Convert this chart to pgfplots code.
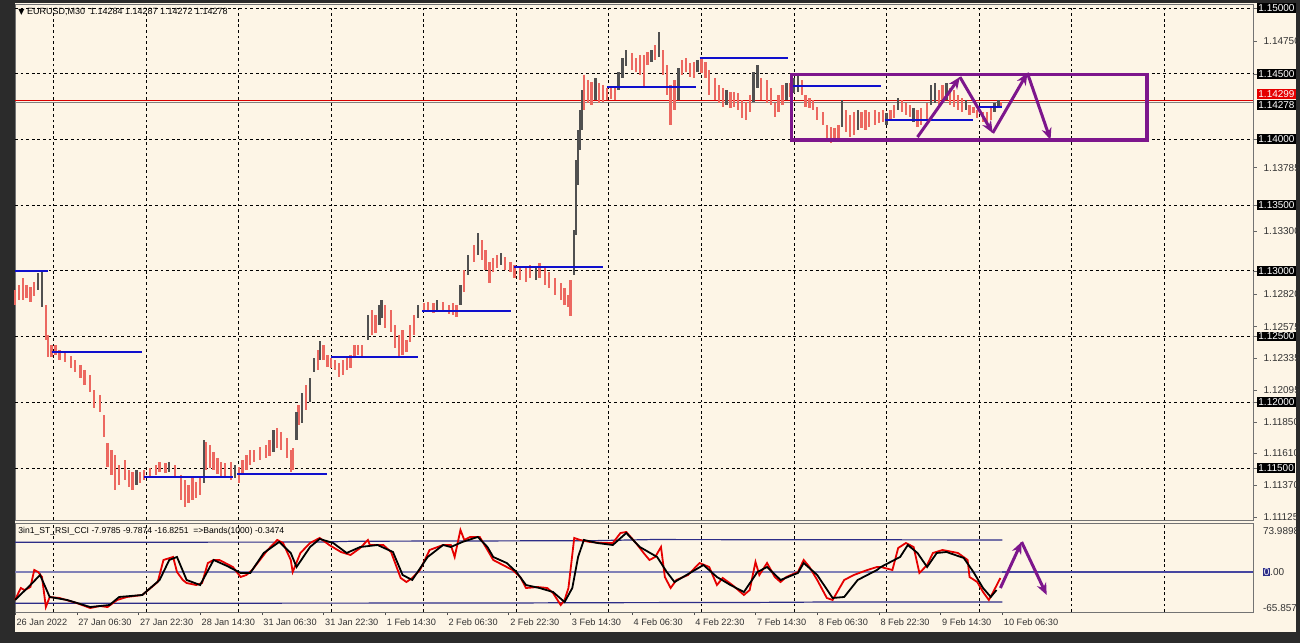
\documentclass[border=0pt]{standalone}
\usepackage{pgfplots}
\pgfplotsset{compat=1.18}
\usepackage{pgfplotstable}
\usetikzlibrary{arrows.meta}
\usepackage{fontspec}
\setmainfont{Liberation Sans}
\newfontfamily\dejavu{DejaVu Sans}

\definecolor{bg}{HTML}{FDF5E6}
\definecolor{frame}{HTML}{2B2B2B}
\definecolor{bardn}{RGB}{236,104,96}
\definecolor{barup}{RGB}{80,80,80}
\definecolor{lvl}{RGB}{15,15,205}
\definecolor{zz}{RGB}{125,22,140}
\definecolor{band}{RGB}{45,45,135}
\definecolor{zero}{RGB}{70,70,160}

% bar index (M30), low, high
\pgfplotstableread{
b lo hi
0 1.12740 1.12854
2 1.12778 1.12892
4 1.12778 1.12945
6 1.12793 1.12892
8 1.12763 1.12877
10 1.12808 1.12915
16 1.12474 1.12740
17 1.12344 1.12512
19 1.12344 1.12436
21 1.12359 1.12436
23 1.12321 1.12398
26 1.12306 1.12382
29 1.12261 1.12352
31 1.12230 1.12321
34 1.12184 1.12283
36 1.12131 1.12245
39 1.12078 1.12207
41 1.11956 1.12093
44 1.11926 1.12055
46 1.11735 1.11903
48 1.11507 1.11690
50 1.11446 1.11637
52 1.11332 1.11598
54 1.11370 1.11522
57 1.11408 1.11560
59 1.11355 1.11484
61 1.11332 1.11469
65 1.11385 1.11469
67 1.11408 1.11484
70 1.11423 1.11500
73 1.11446 1.11522
75 1.11469 1.11545
78 1.11461 1.11538
83 1.11439 1.11522
86 1.11256 1.11446
88 1.11203 1.11408
90 1.11233 1.11370
92 1.11256 1.11423
94 1.11271 1.11393
96 1.11294 1.11423
99 1.11484 1.11697
101 1.11500 1.11675
103 1.11484 1.11621
105 1.11454 1.11576
107 1.11439 1.11545
109 1.11423 1.11538
112 1.11408 1.11545
116 1.11385 1.11507
118 1.11446 1.11560
120 1.11484 1.11598
122 1.11522 1.11637
124 1.11545 1.11637
127 1.11560 1.11659
130 1.11576 1.11675
132 1.11591 1.11713
136 1.11652 1.11804
138 1.11637 1.11774
141 1.11576 1.11728
143 1.11469 1.11637
144 1.11484 1.11652
147 1.11827 1.11979
151 1.11941 1.12131
157 1.12245 1.12398
160 1.12321 1.12436
162 1.12268 1.12359
164 1.12261 1.12337
166 1.12245 1.12321
168 1.12192 1.12299
170 1.12207 1.12321
172 1.12245 1.12337
174 1.12261 1.12359
176 1.12337 1.12436
178 1.12359 1.12436
180 1.12344 1.12436
185 1.12512 1.12702
187 1.12527 1.12664
192 1.12565 1.12740
195 1.12534 1.12702
197 1.12413 1.12588
199 1.12344 1.12512
201 1.12359 1.12550
203 1.12382 1.12474
205 1.12458 1.12588
207 1.12512 1.12664
212 1.12687 1.12755
214 1.12687 1.12763
217 1.12679 1.12755
222 1.12687 1.12763
225 1.12671 1.12740
227 1.12664 1.12755
229 1.12649 1.12740
233 1.12839 1.13006
238 1.13067 1.13197
242 1.13082 1.13235
244 1.13006 1.13159
246 1.12907 1.13067
248 1.12991 1.13098
250 1.13021 1.13120
254 1.13006 1.13105
257 1.12991 1.13067
259 1.12945 1.13044
262 1.12930 1.13021
265 1.12915 1.13021
267 1.12945 1.13044
272 1.12945 1.13060
275 1.12892 1.13021
277 1.12869 1.12991
280 1.12816 1.12945
283 1.12778 1.12907
285 1.12740 1.12869
287 1.12725 1.12816
288 1.12656 1.12930
295 1.14224 1.14490
297 1.14277 1.14452
299 1.14262 1.14437
303 1.14277 1.14429
305 1.14285 1.14414
307 1.14300 1.14391
309 1.14308 1.14407
311 1.14300 1.14391
320 1.14528 1.14658
322 1.14513 1.14620
324 1.14490 1.14642
326 1.14391 1.14642
328 1.14566 1.14665
332 1.14604 1.14719
336 1.14490 1.14681
338 1.14338 1.14566
340 1.14110 1.14414
342 1.14224 1.14452
346 1.14490 1.14604
348 1.14513 1.14620
350 1.14475 1.14582
352 1.14467 1.14589
356 1.14506 1.14620
358 1.14467 1.14589
360 1.14338 1.14528
363 1.14300 1.14467
365 1.14277 1.14414
367 1.14247 1.14391
371 1.14239 1.14361
373 1.14247 1.14361
375 1.14224 1.14353
377 1.14163 1.14300
379 1.14148 1.14285
381 1.14209 1.14338
387 1.14300 1.14467
390 1.14277 1.14452
392 1.14262 1.14391
394 1.14171 1.14277
396 1.14209 1.14338
398 1.14262 1.14414
402 1.14323 1.14429
408 1.14338 1.14452
410 1.14247 1.14338
412 1.14239 1.14315
414 1.14224 1.14300
416 1.14148 1.14247
419 1.14110 1.14209
421 1.13996 1.14110
423 1.13973 1.14095
425 1.13980 1.14087
427 1.13996 1.14110
431 1.14057 1.14224
433 1.14018 1.14186
435 1.14034 1.14209
439 1.14087 1.14209
441 1.14072 1.14224
443 1.14095 1.14209
446 1.14110 1.14224
448 1.14125 1.14209
450 1.14133 1.14224
454 1.14148 1.14224
456 1.14163 1.14262
460 1.14209 1.14300
462 1.14186 1.14277
464 1.14171 1.14262
468 1.14095 1.14224
470 1.14110 1.14239
473 1.14148 1.14277
479 1.14239 1.14376
481 1.14300 1.14414
485 1.14262 1.14391
487 1.14247 1.14376
489 1.14224 1.14338
491 1.14209 1.14315
495 1.14186 1.14262
497 1.14201 1.14247
499 1.14163 1.14224
502 1.14133 1.14209
504 1.14110 1.14209
506 1.14148 1.14239
511 1.14254 1.14285
}\dnbars

\pgfplotstableread{
b lo hi
12 1.12854 1.12983
14 1.12725 1.13006
63 1.11370 1.11484
80 1.11469 1.11545
98 1.11385 1.11713
114 1.11423 1.11522
134 1.11621 1.11789
146 1.11713 1.11926
149 1.11842 1.12070
153 1.12002 1.12184
155 1.12230 1.12337
158 1.12321 1.12466
183 1.12474 1.12664
189 1.12588 1.12740
190 1.12641 1.12778
209 1.12641 1.12740
219 1.12702 1.12778
231 1.12740 1.12892
235 1.12968 1.13120
240 1.13120 1.13288
252 1.13044 1.13136
270 1.12930 1.13037
290 1.12968 1.13311
291 1.13273 1.13843
292 1.13653 1.14072
293 1.13920 1.14224
294 1.14072 1.14376
301 1.14300 1.14467
313 1.14376 1.14513
315 1.14467 1.14620
317 1.14559 1.14681
330 1.14589 1.14681
334 1.14627 1.14818
344 1.14300 1.14544
354 1.14513 1.14604
369 1.14262 1.14376
383 1.14285 1.14513
385 1.14391 1.14566
400 1.14300 1.14429
404 1.14353 1.14467
406 1.14361 1.14483
429 1.14095 1.14300
437 1.14072 1.14224
452 1.14110 1.14201
458 1.14224 1.14315
466 1.14133 1.14239
475 1.14262 1.14414
477 1.14277 1.14429
483 1.14300 1.14429
493 1.14224 1.14300
508 1.14209 1.14277
510 1.14239 1.14300
}\upbars

% 3in1 oscillator: fast (red) and slow (black) lines
\pgfplotstableread{
b v
0 -50.5
3 -28.9
5 -32.5
8 -27.1
10 3.6
12 0
14 -9.0
16 -63.2
18 -45.1
23 -46.9
32 -56.0
39 -65.0
44 -61.4
48 -63.2
53 -50.5
58 -45.1
66 -41.5
74 -18.1
77 21.7
82 27.1
84 0
87 -14.4
89 -19.9
94 -23.5
97 -19.9
100 16.2
103 21.7
106 21.7
113 9.0
117 -9.0
120 -5.4
123 3.6
131 39.7
136 57.8
139 52.3
143 21.7
144 0
148 34.3
153 52.3
158 61.4
163 48.7
169 36.1
174 30.7
179 43.3
183 57.8
184 48.7
191 48.7
195 36.1
200 -10.8
203 -18.1
206 -10.8
210 3.6
215 39.7
222 48.7
226 48.7
228 27.1
231 75.8
233 57.8
236 63.2
241 63.2
245 39.7
248 21.7
253 12.6
258 3.6
262 -9.0
265 -28.9
271 -27.1
276 -28.9
279 -37.9
283 -59.6
285 -50.5
287 -28.9
290 61.4
293 57.8
298 54.2
305 52.3
310 52.3
314 70.4
317 72.2
322 52.3
326 34.3
329 21.7
332 27.1
335 45.1
337 -9.0
340 -28.9
343 -14.4
349 -5.4
355 16.2
360 9.0
364 -23.5
367 -10.8
372 -23.5
378 -41.5
381 -32.5
384 18.1
386 -5.4
390 16.2
394 -9.0
397 -18.1
400 -9.0
406 0
409 21.7
412 9.0
416 -14.4
421 -46.9
424 -50.5
430 -14.4
435 -5.4
442 3.6
447 9.0
449 9.0
455 3.6
458 43.3
462 52.3
466 45.1
469 -1.8
473 12.6
476 34.3
481 39.7
489 34.3
494 21.7
495 -9.0
499 -18.1
502 -36.1
505 -50.5
507 -37.9
511 -10.8
}\fastline

\pgfplotstableread{
b v
0 -50.5
8 -23.5
13 -5.4
18 -45.1
27 -50.5
39 -63.2
49 -59.6
54 -45.1
66 -41.5
75 -14.4
80 21.7
84 27.1
89 -14.4
96 -23.5
103 21.7
110 10.8
117 -1.8
122 -1.8
129 34.3
137 54.2
143 34.3
146 9.0
153 45.1
158 59.6
165 52.3
172 34.3
179 45.1
188 48.7
196 36.1
201 -5.4
206 -14.4
214 27.1
222 48.7
226 45.1
232 54.2
240 63.2
245 45.1
248 27.1
255 16.2
260 0
265 -23.5
272 -28.9
279 -36.1
285 -54.2
289 -28.9
292 27.1
295 57.8
302 52.3
310 48.7
317 70.4
324 45.1
333 27.1
338 0
342 -18.1
350 -1.8
357 12.6
364 -9.0
371 -23.5
378 -36.1
385 0
390 9.0
397 -14.4
406 -1.8
409 16.2
416 -5.4
424 -46.9
430 -45.1
437 -14.4
447 3.6
449 9.0
459 27.1
463 48.7
468 34.3
473 9.0
478 34.3
483 36.1
492 25.3
497 0
502 -28.9
506 -45.1
509 -32.5
}\slowline

\begin{document}
\begin{tikzpicture}
\useasboundingbox (0,0) rectangle (650pt,321.5pt);
\fill[frame] (0,0) rectangle (650pt,321.5pt);
\fill[bg] (7.5pt,5.5pt) rectangle (648pt,320pt);

\pgfplotsset{
  mt/.style={
    scale only axis, anchor=south west, width=619pt,
    xmin=0, xmax=642, clip=false,
    axis line style={black!55, line width=0.5pt},
    grid style={black, dash pattern=on 1.4pt off 1.4pt, line width=0.45pt},
    ytick pos=right, yticklabel pos=right, tick align=outside,
    tick label style={font=\fontsize{5}{6}\selectfont, text=black!80},
  },
  ohlc/.style={draw=none, mark=none, forget plot,
    error bars/.cd, y dir=both, y explicit, error mark=none,
    error bar style={draw=#1, line width=1.15pt}},
}

%------------------------------ price window
\begin{axis}[mt,
  at={(7.5pt,61.5pt)}, height=257.5pt,
  ymin=1.11104, ymax=1.15023,
  xtick={20,68,116,164,212,260,308,356,404,452,500,548,596},
  xticklabels={}, xmajorgrids, xtick style={draw=none},
  ytick={1.11125,1.11370,1.11610,1.11850,1.12095,1.12335,1.12575,1.12820,1.13300,1.13785,1.14750},
  yticklabels={1.11125,1.11370,1.11610,1.11850,1.12095,1.12335,1.12575,1.12820,1.13300,1.13785,1.14750},
  ytick style={black!60}, major tick length=1.8pt,
  extra y ticks={1.115,1.120,1.125,1.130,1.135,1.140,1.145,1.150},
  extra y tick labels={1.11500,1.12000,1.12500,1.13000,1.13500,1.14000,1.14500,1.15000},
  extra y tick style={grid=major, yticklabel style={fill=black, text=white, inner sep=0.7pt}},
]
\addplot[red!85!black, line width=0.4pt] coordinates {(0,1.14300) (642,1.14300)};
\addplot[black!50, line width=0.4pt] coordinates {(0,1.14278) (642,1.14278)};

\addplot[ohlc=bardn]
  table[x=b, y expr=(\thisrow{lo}+\thisrow{hi})/2, y error expr=(\thisrow{hi}-\thisrow{lo})/2] {\dnbars};
\addplot[ohlc=barup]
  table[x=b, y expr=(\thisrow{lo}+\thisrow{hi})/2, y error expr=(\thisrow{hi}-\thisrow{lo})/2] {\upbars};

% daily open levels
\addplot[lvl, line width=1pt] coordinates {(0,1.13000) (17,1.13000)};
\addplot[lvl, line width=1pt] coordinates {(19,1.12382) (66,1.12382)};
\addplot[lvl, line width=1pt] coordinates {(67,1.11431) (113,1.11431)};
\addplot[lvl, line width=1pt] coordinates {(115,1.11454) (162,1.11454)};
\addplot[lvl, line width=1pt] coordinates {(164,1.12344) (209,1.12344)};
\addplot[lvl, line width=1pt] coordinates {(211,1.12694) (257,1.12694)};
\addplot[lvl, line width=1pt] coordinates {(259,1.13029) (305,1.13029)};
\addplot[lvl, line width=1pt] coordinates {(307,1.14399) (353,1.14399)};
\addplot[lvl, line width=1pt] coordinates {(355,1.14620) (401,1.14620)};
\addplot[lvl, line width=1pt] coordinates {(403,1.14407) (449,1.14407)};
\addplot[lvl, line width=1pt] coordinates {(451,1.14148) (497,1.14148)};
\addplot[lvl, line width=1pt] coordinates {(499,1.14247) (512,1.14247)};

% range box and projected swings
\addplot[zz, line width=1.6pt, line join=miter] coordinates {(402.5,1.13996) (587,1.13996) (587,1.14494) (402.5,1.14494) (402.5,1.13996) (587,1.13996)};
\addplot[zz, line width=1.5pt, -{Stealth[length=6pt,width=5pt]}] coordinates {(468,1.14018) (490,1.14475)};
\addplot[zz, line width=1.5pt, -{Stealth[length=6pt,width=5pt]}] coordinates {(490,1.14475) (507,1.14049)};
\addplot[zz, line width=1.5pt, -{Stealth[length=6pt,width=5pt]}] coordinates {(507,1.14049) (525,1.14506)};
\addplot[zz, line width=1.5pt, -{Stealth[length=6pt,width=5pt]}] coordinates {(525,1.14506) (537,1.13996)};

\node[anchor=west, inner sep=0pt, font=\fontsize{4.5}{5}\selectfont] at (rel axis cs:0,1) [xshift=1.5pt, yshift=-3.6pt]
  {{\dejavu\fontsize{4}{4}\selectfont ▼}\ EURUSD,M30\ \ 1.14284 1.14287 1.14272 1.14278};
\node[anchor=west, fill=red!90!black, text=white, inner sep=0.7pt, font=\fontsize{5}{6}\selectfont]
  at (axis cs:642,1.14345) [xshift=1.8pt] {1.14299};
\node[anchor=west, fill=black, text=white, inner sep=0.7pt, font=\fontsize{5}{6}\selectfont]
  at (axis cs:642,1.14262) [xshift=1.8pt] {1.14278};
\end{axis}

%------------------------------ oscillator window
\begin{axis}[mt,
  at={(7.5pt,15.5pt)}, height=44.5pt,
  ymin=-72.2, ymax=88.4,
  xtick={0,32,64,96,128,160,192,224,256,288,320,352,384,416,448,480,512},
  xticklabels={26 Jan 2022,27 Jan 06:30,27 Jan 22:30,28 Jan 14:30,31 Jan 06:30,31 Jan 22:30,1 Feb 14:30,2 Feb 06:30,2 Feb 22:30,3 Feb 14:30,4 Feb 06:30,4 Feb 22:30,7 Feb 14:30,8 Feb 06:30,8 Feb 22:30,9 Feb 14:30,10 Feb 06:30},
  xtick pos=bottom,
  xticklabel style={anchor=north west, inner sep=0.6pt, yshift=-1.2pt, font=\fontsize{4.6}{5}\selectfont},
  xtick style={black!70}, major tick length=1.5pt,
  extra x ticks={20,68,116,164,212,260,308,356,404,452,500,548,596},
  extra x tick labels={},
  extra x tick style={grid=major, major tick length=0pt},
  ytick={-65.857,0,73.9898},
  yticklabels={-65.857,{\setlength{\fboxsep}{0.4pt}\colorbox{band}{\textcolor{white}{0}}.00},73.9898},
  ytick style={draw=none},
]
\addplot[zero, line width=0.6pt] coordinates {(0,0) (642,0)};
\addplot[band!60!white, line width=1pt] coordinates {(0,0.5) (512,0.5)};
\addplot[band, line width=0.6pt] coordinates {(0,53.6) (160,54) (175,55.5) (300,56.5) (330,58.5) (512,57.8)};
\addplot[band, line width=0.6pt] coordinates {(0,-56.5) (250,-56) (300,-55.4) (380,-55) (420,-54.2) (512,-54.2)};
\addplot[red!90!black, line width=0.9pt] table[x=b, y=v] {\fastline};
\addplot[black, line width=0.9pt] table[x=b, y=v] {\slowline};
\addplot[zz, line width=1.5pt, -{Stealth[length=6pt,width=5pt]}] coordinates {(511,-28.9) (522,54.2)};
\addplot[zz, line width=1.5pt, -{Stealth[length=6pt,width=5pt]}] coordinates {(522,54.2) (535,-41.5)};
\node[anchor=west, inner sep=0pt, font=\fontsize{4.3}{5}\selectfont] at (rel axis cs:0,1) [xshift=1.5pt, yshift=-4pt]
  {3in1\_ST\_RSI\_CCI -7.9785 -9.7874 -16.8251\ \ =>Bands(1000) -0.3474};
\end{axis}
\end{tikzpicture}
\end{document}
